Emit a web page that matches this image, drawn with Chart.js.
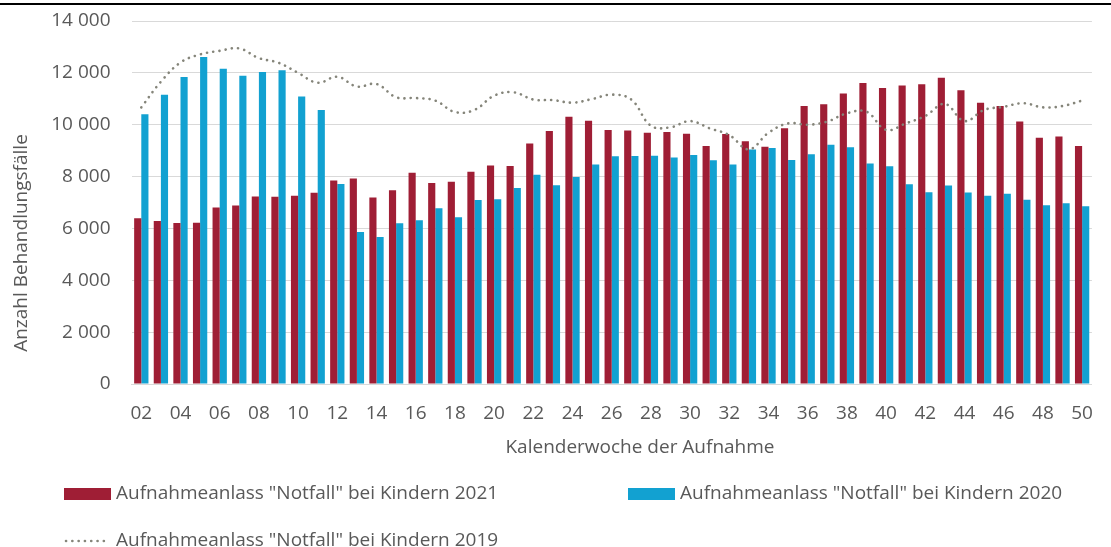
<!DOCTYPE html>
<html lang="de">
<head>
<meta charset="UTF-8">
<title>Aufnahmeanlass Notfall bei Kindern</title>
<script src="https://cdn.jsdelivr.net/npm/chart.js"></script>
<style>
  body { margin: 0; background: #fff; }
  #wrap { width: 1111px; height: 547px; position: relative; }
</style>
</head>
<body>
<div id="wrap"><canvas id="chart"></canvas></div>
<script>
// Kalenderwochen (x-Achse)
const weeks = ['02','03','04','05','06','07','08','09','10','11',
               '12','13','14','15','16','17','18','19','20','21',
               '22','23','24','25','26','27','28','29','30','31',
               '32','33','34','35','36','37','38','39','40','41',
               '42','43','44','45','46','47','48','49','50'];

const notfall2021 = [6390, 6290, 6210, 6220, 6810, 6880, 7230, 7220, 7260, 7380,
                     7850, 7930, 7190, 7470, 8150, 7750, 7800, 8190, 8430, 8410,
                     9280, 9760, 10310, 10150, 9800, 9780, 9690, 9720, 9650, 9180,
                     9640, 9360, 9150, 9860, 10720, 10790, 11200, 11610, 11420, 11510,
                     11560, 11810, 11330, 10850, 10720, 10120, 9500, 9550, 9180];

const notfall2020 = [10400, 11160, 11840, 12610, 12160, 11890, 12030, 12100, 11090, 10570,
                     7710, 5860, 5670, 6200, 6320, 6780, 6430, 7100, 7130, 7560,
                     8070, 7670, 7980, 8470, 8780, 8790, 8800, 8740, 8830, 8630,
                     8470, 9040, 9100, 8640, 8860, 9230, 9130, 8500, 8400, 7700,
                     7400, 7660, 7390, 7260, 7340, 7110, 6890, 6970, 6860];

const notfall2019 = [10670, 11660, 12400, 12710, 12850, 12940, 12570, 12390, 12000, 11620,
                     11850, 11470, 11570, 11060, 11030, 10930, 10490, 10570, 11120, 11250,
                     10970, 10950, 10850, 10990, 11160, 10970, 9960, 9900, 10140, 9860,
                     9600, 9050, 9690, 10050, 10000, 10120, 10440, 10500, 9800, 10050,
                     10340, 10800, 10140, 10570, 10690, 10830, 10670, 10720, 10930];

const seriesLabels = ['Aufnahmeanlass "Notfall" bei Kindern 2021',
                      'Aufnahmeanlass "Notfall" bei Kindern 2020',
                      'Aufnahmeanlass "Notfall" bei Kindern 2019'];

const xTitle = 'Kalenderwoche der Aufnahme';
const yTitle = 'Anzahl Behandlungsfälle';

const textColor = '#595959';
const fontFamily = '"Open Sans", "Liberation Sans", sans-serif';
const fontSize = 19;

function formatNumber(v) {
    return String(v).replace(/\B(?=(\d{3})+(?!\d))/g, ' ');
}

// Achsentitel, Legende und obere Linie selbst zeichnen (Excel-Layout)
const extras = {
    id: 'extras',
    afterDraw(chart) {
        const ctx = chart.ctx;
        const ds = chart.data.datasets;
        ctx.save();
        ctx.fillStyle = '#000';
        ctx.fillRect(0, 3, chart.width, 2);

        ctx.fillStyle = textColor;
        ctx.font = fontSize + 'px ' + fontFamily;
        ctx.textBaseline = 'middle';
        ctx.textAlign = 'center';
        ctx.fillText(xTitle, 640, 448);

        ctx.save();
        ctx.translate(22, 243);
        ctx.rotate(-Math.PI / 2);
        ctx.fillText(yTitle, 0, 0);
        ctx.restore();

        // Legende
        ctx.textAlign = 'left';
        const items = [
            { ds: ds[0], x: 64, y: 494 },
            { ds: ds[1], x: 628, y: 494 },
            { ds: ds[2], x: 64, y: 541 }
        ];
        items.forEach(it => {
            if (it.ds.type === 'line') {
                ctx.save();
                ctx.strokeStyle = it.ds.borderColor;
                ctx.lineWidth = it.ds.borderWidth;
                ctx.lineCap = 'round';
                ctx.setLineDash(it.ds.borderDash);
                ctx.beginPath();
                ctx.moveTo(it.x + 2, it.y);
                ctx.lineTo(it.x + 42, it.y);
                ctx.stroke();
                ctx.restore();
            } else {
                ctx.fillStyle = it.ds.backgroundColor;
                ctx.fillRect(it.x, it.y - 6, 47, 12);
            }
            ctx.fillStyle = textColor;
            ctx.fillText(it.ds.label, it.x + 52, it.y);
        });
        ctx.restore();
    }
};

new Chart(document.getElementById('chart'), {
    data: {
        labels: weeks,
        datasets: [
            {
                type: 'bar',
                label: seriesLabels[0],
                data: notfall2021,
                backgroundColor: '#9f1e35',
                categoryPercentage: 0.73,
                barPercentage: 1.0,
                order: 2
            },
            {
                type: 'bar',
                label: seriesLabels[1],
                data: notfall2020,
                backgroundColor: '#12a1d1',
                categoryPercentage: 0.73,
                barPercentage: 1.0,
                order: 2
            },
            {
                type: 'line',
                label: seriesLabels[2],
                data: notfall2019,
                borderColor: '#85857a',
                borderWidth: 2.6,
                borderDash: [0.1, 6.2],
                borderCapStyle: 'round',
                pointRadius: 0,
                tension: 0.4,
                fill: false,
                order: 1
            }
        ]
    },
    options: {
        responsive: true,
        maintainAspectRatio: false,
        animation: false,
        layout: { padding: { left: 0, right: 2, top: 21, bottom: 0 } },
        plugins: {
            legend: { display: false },
            tooltip: { enabled: true }
        },
        scales: {
            x: {
                grid: { display: false, drawTicks: false },
                border: { display: true, color: '#d9d9d9', width: 1 },
                ticks: {
                    autoSkip: false,
                    maxRotation: 0,
                    padding: 18,
                    color: textColor,
                    font: { family: fontFamily, size: fontSize },
                    callback: function (value, index) {
                        return index % 2 === 0 ? this.getLabelForValue(value) : '';
                    }
                },
                afterFit: scale => { scale.height = 163; }
            },
            y: {
                min: 0,
                max: 14000,
                // unsichtbare Ticks als Abstand zwischen Beschriftung und Diagramm
                grid: { color: '#d9d9d9', drawTicks: true, tickLength: 21, tickColor: 'rgba(0,0,0,0)' },
                border: { display: false },
                ticks: {
                    stepSize: 2000,
                    padding: 0,
                    color: textColor,
                    font: { family: fontFamily, size: fontSize },
                    callback: v => formatNumber(v)
                },
                afterFit: scale => { scale.width = 131.5; }
            }
        }
    },
    plugins: [extras]
});
</script>
</body>
</html>
